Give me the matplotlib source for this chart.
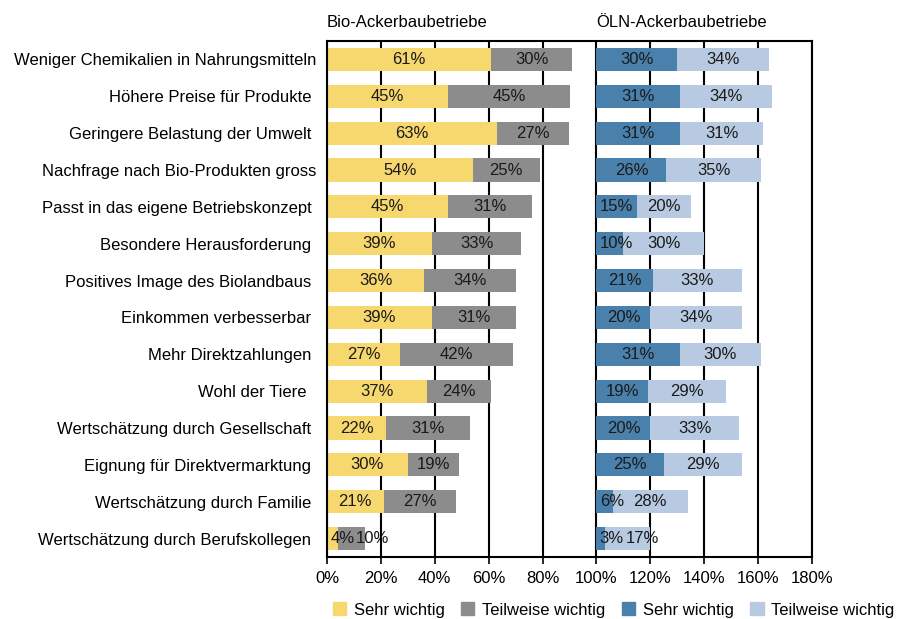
import matplotlib
matplotlib.use("Agg")
import matplotlib.pyplot as plt
from matplotlib.ticker import MultipleLocator, PercentFormatter
from matplotlib.patches import Patch

plt.rcParams['font.family'] = ['Liberation Sans', 'DejaVu Sans']

# Daten
kategorien = [
    "Weniger Chemikalien in Nahrungsmitteln",
    "Höhere Preise für Produkte ",
    "Geringere Belastung der Umwelt ",
    "Nachfrage nach Bio-Produkten gross",
    "Passt in das eigene Betriebskonzept ",
    "Besondere Herausforderung ",
    "Positives Image des Biolandbaus ",
    "Einkommen verbesserbar ",
    "Mehr Direktzahlungen ",
    "Wohl der Tiere  ",
    "Wertschätzung durch Gesellschaft ",
    "Eignung für Direktvermarktung ",
    "Wertschätzung durch Familie ",
    "Wertschätzung durch Berufskollegen ",
]
bio_sehr = [61, 45, 63, 54, 45, 39, 36, 39, 27, 37, 22, 30, 21, 4]
bio_teil = [30, 45, 27, 25, 31, 33, 34, 31, 42, 24, 31, 19, 27, 10]
oeln_sehr = [30, 31, 31, 26, 15, 10, 21, 20, 31, 19, 20, 25, 6, 3]
oeln_teil = [34, 34, 31, 35, 20, 30, 33, 34, 30, 29, 33, 29, 28, 17]
oeln_start = 100  # ÖLN-Balken beginnen bei 100%

gruppen = ["Bio-Ackerbaubetriebe", "ÖLN-Ackerbaubetriebe"]
legende = ["Sehr wichtig", "Teilweise wichtig", "Sehr wichtig", "Teilweise wichtig"]

c_gelb = "#F7D86E"
c_grau = "#8C8C8C"
c_blau = "#4A80AC"
c_hellblau = "#B8CAE2"

fs = 12

fig = plt.figure(figsize=(8.98, 6.19), dpi=100)
ax = fig.add_axes([327 / 898, 1 - 557 / 619, (812 - 327) / 898, (557 - 41) / 619])

y = list(range(len(kategorien)))
h = 0.63

ax.barh(y, bio_sehr, height=h, color=c_gelb, zorder=3)
ax.barh(y, bio_teil, left=bio_sehr, height=h, color=c_grau, zorder=3)
ax.barh(y, oeln_sehr, left=oeln_start, height=h, color=c_blau, zorder=3)
left_teil = [oeln_start + v for v in oeln_sehr]
ax.barh(y, oeln_teil, left=left_teil, height=h, color=c_hellblau, zorder=3)

ax.set_xlim(0, 180)
ax.set_ylim(len(kategorien) - 0.5, -0.5)

renderer = fig.canvas.get_renderer()
px = 180 / ax.get_window_extent(renderer).width  # Daten-Einheiten pro Pixel


def beschriften(start, werte1, werte2):
    # Beschriftung mittig; bei schmalen Segmenten nach rechts schieben
    for i, (a, b) in enumerate(zip(werte1, werte2)):
        t1 = ax.text(0, i, f"{a}%", ha="center", va="center", fontsize=fs, color="#1a1a1a", zorder=4)
        t2 = ax.text(0, i, f"{b}%", ha="center", va="center", fontsize=fs, color="#1a1a1a", zorder=4)
        w1 = t1.get_window_extent(renderer).width * px
        w2 = t2.get_window_extent(renderer).width * px
        x1 = max(start + a / 2, start + w1 / 2 + 1.2)
        x2 = max(start + a + b / 2, x1 + w1 / 2 + w2 / 2 + 0.6)
        t1.set_x(x1)
        t2.set_x(x2)


beschriften(0, bio_sehr, bio_teil)
beschriften(oeln_start, oeln_sehr, oeln_teil)

ax.xaxis.set_major_locator(MultipleLocator(20))
ax.xaxis.set_major_formatter(PercentFormatter(xmax=100, decimals=0))
ax.set_yticks(y)
ax.set_yticklabels(kategorien, fontsize=fs)
ax.tick_params(axis="y", length=0, pad=8)
ax.tick_params(axis="x", length=5, width=1.2, labelsize=fs, pad=5, direction="out")
ax.grid(axis="x", color="black", linewidth=1.5, zorder=0)
for sp in ax.spines.values():
    sp.set_linewidth(1.5)
    sp.set_zorder(5)

ax.text(0, 1.035, gruppen[0], transform=ax.get_xaxis_transform(), fontsize=fs, va="center", ha="left")
ax.text(oeln_start, 1.035, gruppen[1], transform=ax.get_xaxis_transform(), fontsize=fs, va="center", ha="left")

handles = [Patch(color=c) for c in [c_gelb, c_grau, c_blau, c_hellblau]]
fig.legend(handles, legende, loc="center left", bbox_to_anchor=(326 / 898, 1 - 610 / 619),
           ncol=4, frameon=False, fontsize=fs, handlelength=0.8, handleheight=0.8,
           handletextpad=0.45, columnspacing=1.0, borderaxespad=0)

fig.savefig("out.png", dpi=100)
